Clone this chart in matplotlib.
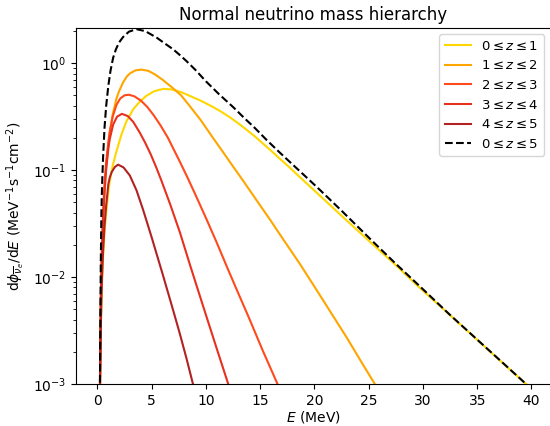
import matplotlib
matplotlib.use("Agg")
import matplotlib.pyplot as plt

# Energy (MeV) and flux (MeV^-1 s^-1 cm^-2)
E_z01 = [0.2, 0.3, 0.4, 0.52, 0.65, 0.8, 1.0, 1.13, 1.4, 1.75, 2.2, 2.67, 3.3, 3.9, 4.5, 5.2,
         6.05, 6.8, 7.7, 8.5, 9.5, 10.66, 11.5, 12.2, 13.0, 13.73, 14.5, 15.2, 16.0, 16.8,
         17.7, 18.65, 19.5, 20.5, 22.5, 25.0, 27.5, 29.7, 32.5, 35.0, 37.5, 39.5, 42.0]
F_z01 = [5.01e-4, 3.16e-3, 7.94e-3, 1.58e-2, 2.63e-2, 3.98e-2, 6.31e-2, 7.85e-2, 0.110, 0.150,
         0.214, 0.286, 0.372, 0.437, 0.495, 0.546, 0.575, 0.569, 0.537, 0.495, 0.447, 0.389,
         0.347, 0.312, 0.273, 0.239, 0.207, 0.179, 0.152, 0.128, 0.106, 0.0861, 0.0716,
         0.0577, 0.0374, 0.0219, 0.0129, 0.00794, 0.00440, 0.00259, 0.00152, 0.00100, 0.000589]

E_z12 = [0.2, 0.3, 0.4, 0.52, 0.65, 0.8, 1.0, 1.13, 1.4, 1.75, 2.0, 2.36, 2.7, 3.0, 3.5, 4.06,
         4.7, 5.3, 6.0, 6.97, 7.7, 8.5, 9.5, 10.65, 11.5, 12.5, 13.5, 14.65, 15.88, 17.2,
         18.65, 20.0, 21.5, 23.0, 24.3, 25.56, 27.0]
F_z12 = [5.01e-4, 5.01e-3, 1.41e-2, 3.16e-2, 6.03e-2, 0.105, 0.174, 0.224, 0.331, 0.468,
         0.550, 0.661, 0.750, 0.804, 0.857, 0.871, 0.847, 0.785, 0.700, 0.582, 0.501, 0.398,
         0.295, 0.200, 0.151, 0.108, 0.0776, 0.0525, 0.0347, 0.0219, 0.0133, 0.00813,
         0.00468, 0.00269, 0.00162, 0.00100, 0.000575]

E_z23 = [0.2, 0.3, 0.4, 0.52, 0.65, 0.8, 1.0, 1.13, 1.4, 1.75, 2.1, 2.5, 2.9, 3.4, 4.0, 4.6,
         5.2, 5.8, 6.5, 7.0, 7.59, 8.3, 9.12, 10.05, 11.0, 12.0, 12.8, 14.0, 15.2, 16.5, 17.5]
F_z23 = [5.01e-4, 6.31e-3, 1.78e-2, 4.17e-2, 7.59e-2, 0.120, 0.182, 0.229, 0.316, 0.407,
         0.468, 0.501, 0.507, 0.490, 0.447, 0.389, 0.324, 0.263, 0.200, 0.158, 0.120, 0.0851,
         0.0562, 0.0347, 0.0209, 0.0120, 0.00776, 0.00407, 0.00209, 0.00105, 0.000603]

E_z34 = [0.2, 0.3, 0.4, 0.52, 0.65, 0.8, 1.0, 1.13, 1.44, 1.8, 2.25, 2.8, 3.3, 3.9, 4.4, 4.9,
         5.4, 5.9, 6.7, 7.59, 8.6, 9.73, 10.9, 12.05, 13.0]
F_z34 = [5.01e-4, 5.62e-3, 1.58e-2, 3.55e-2, 6.31e-2, 0.102, 0.158, 0.195, 0.266, 0.316,
         0.336, 0.320, 0.282, 0.224, 0.180, 0.141, 0.107, 0.0794, 0.0479, 0.0263, 0.0123,
         0.00537, 0.00229, 0.00100, 0.000501]

E_z45 = [0.2, 0.3, 0.4, 0.52, 0.65, 0.8, 1.0, 1.13, 1.3, 1.6, 1.9, 2.4, 2.98, 3.6, 4.2, 5.0,
         6.0, 7.0, 7.59, 8.2, 8.8, 9.5]
F_z45 = [3.98e-4, 3.16e-3, 8.91e-3, 1.78e-2, 3.02e-2, 4.68e-2, 7.41e-2, 8.51e-2, 9.55e-2,
         0.107, 0.1125, 0.106, 0.0891, 0.0646, 0.0427, 0.0234, 0.0107, 0.00479, 0.00295,
         0.00174, 0.00100, 0.000501]

E_tot = [0.2, 0.25, 0.3, 0.36, 0.42, 0.52, 0.65, 0.8, 1.0, 1.2, 1.44, 1.7, 2.0, 2.36, 2.9, 3.6,
         4.4, 5.44, 6.2, 6.97, 7.6, 8.2, 9.0, 10.0, 11.2, 12.5, 13.5, 14.5, 15.6, 16.8, 17.7,
         18.65, 19.5, 20.5, 22.5, 25.1, 27.5, 29.8, 32.5, 35.0, 37.5, 39.5, 42.0]
F_tot = [3.98e-4, 2.51e-3, 1.26e-2, 3.98e-2, 7.08e-2, 0.135, 0.251, 0.398, 0.617, 0.851,
         1.122, 1.349, 1.567, 1.758, 1.972, 2.080, 1.995, 1.738, 1.531, 1.349, 1.189, 1.047,
         0.871, 0.676, 0.513, 0.389, 0.309, 0.248, 0.191, 0.146, 0.120, 0.0977, 0.0813,
         0.0653, 0.0417, 0.0229, 0.0133, 0.00804, 0.00442, 0.00260, 0.00153, 0.00100, 0.000592]

labels = [r"$0 \leq z \leq 1$", r"$1 \leq z \leq 2$", r"$2 \leq z \leq 3$",
          r"$3 \leq z \leq 4$", r"$4 \leq z \leq 5$", r"$0 \leq z \leq 5$"]
colors = ["#FFD700", "#FFA500", "#FF4A1C", "#E8301F", "#B22222"]

fig = plt.figure(figsize=(5.5, 4.26), dpi=100)
ax = fig.add_axes([0.138, 0.0986, 0.8636, 0.836])

series = [(E_z01, F_z01), (E_z12, F_z12), (E_z23, F_z23), (E_z34, F_z34), (E_z45, F_z45)]
for (e, f), c, lab in zip(series, colors, labels[:5]):
    ax.plot(e, f, color=c, lw=1.5, label=lab)
ax.plot(E_tot, F_tot, color="black", ls="--", lw=1.5, label=labels[5])

ax.set_yscale("log")
ax.set_ylim(1e-3, 2.14)
ax.set_xlim(-1.99, 41.79)
ax.set_xticks([0, 5, 10, 15, 20, 25, 30, 35, 40])
ax.set_title("Normal neutrino mass hierarchy")
ax.set_xlabel(r"$E$ (MeV)", labelpad=1)
ax.set_ylabel(r"d$\phi_{\overline{\nu}_e}$/d$E$ (MeV$^{-1}$s$^{-1}$cm$^{-2}$)")
ax.legend(loc="upper right", fontsize=9.5)

fig.savefig("out.png", dpi=100)
